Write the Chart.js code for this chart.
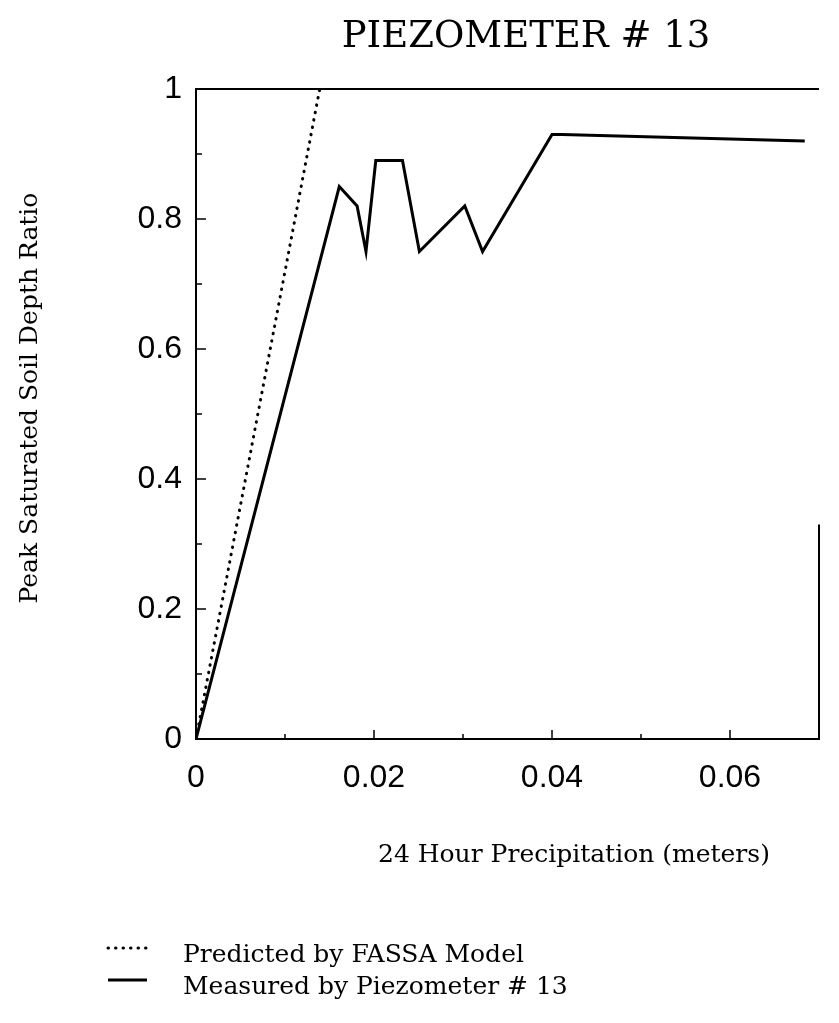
<!DOCTYPE html>
<html>
<head>
<meta charset="utf-8">
<title>Piezometer 13</title>
<script src="https://cdn.jsdelivr.net/npm/chart.js@4.4.1/dist/chart.umd.min.js"></script>
<style>
  html, body { margin: 0; padding: 0; background: #fff; }
  #wrap { width: 839px; height: 1023px; }
</style>
</head>
<body>
<div id="wrap"><canvas id="myChart" width="839" height="1023"></canvas></div>
<script>
// values
const predictedX = [0, 0.0139];
const predictedY = [0, 1.0];

const measuredX = [0, 0.0161, 0.0181, 0.0191, 0.0202, 0.0232, 0.0251, 0.0302, 0.0322, 0.0400, 0.0411, 0.0684];
const measuredY = [0, 0.85, 0.82, 0.75, 0.89, 0.89, 0.75, 0.82, 0.75, 0.93, 0.93, 0.92];

const xTickLabels = ['0', '', '0.02', '', '0.04', '', '0.06', ''];
const yTickLabels = ['0', '', '0.2', '', '0.4', '', '0.6', '', '0.8', '', '1'];

const titleText = 'PIEZOMETER # 13';
const xTitle = '24 Hour Precipitation (meters)';
const yTitle = 'Peak Saturated Soil Depth Ratio';
const seriesNames = ['Predicted by FASSA Model', 'Measured by Piezometer # 13'];

function toPoints(xs, ys) {
  var pts = [];
  for (var i = 0; i < xs.length; i++) {
    pts.push({x: xs[i], y: ys[i]});
  }
  return pts;
}

// frame, inward ticks, titles and legend
const extras = {
  id: 'extras',
  afterDraw(chart) {
    const ctx = chart.ctx;
    const area = chart.chartArea;
    const xs = chart.scales.x;
    const ys = chart.scales.y;
    ctx.save();
    ctx.strokeStyle = '#000';
    ctx.lineWidth = 2;

    ctx.beginPath();
    ctx.moveTo(area.left, area.top);
    ctx.lineTo(area.right, area.top);
    ctx.stroke();

    // right edge only shows on the lower part of the scan
    ctx.beginPath();
    ctx.moveTo(area.right, ys.getPixelForValue(0.33));
    ctx.lineTo(area.right, area.bottom);
    ctx.stroke();

    ctx.lineWidth = 1.5;
    xs.ticks.forEach(function (t, i) {
      var px = xs.getPixelForValue(t.value);
      var len = xTickLabels[i] ? 9 : 5;
      ctx.beginPath();
      ctx.moveTo(px, area.bottom);
      ctx.lineTo(px, area.bottom - len);
      ctx.stroke();
    });
    ys.ticks.forEach(function (t, i) {
      var py = ys.getPixelForValue(t.value);
      var len = yTickLabels[i] ? 10 : 6;
      ctx.beginPath();
      ctx.moveTo(area.left, py);
      ctx.lineTo(area.left + len, py);
      ctx.stroke();
    });

    ctx.fillStyle = '#000';
    ctx.textBaseline = 'alphabetic';
    ctx.font = '37px "DejaVu Serif"';
    ctx.textAlign = 'center';
    ctx.fillText(titleText, 526, 47);

    ctx.font = '25px "DejaVu Serif"';
    ctx.textAlign = 'left';
    ctx.fillText(xTitle, 378, 862);

    ctx.save();
    ctx.translate(30, 398);
    ctx.rotate(-Math.PI / 2);
    ctx.textAlign = 'center';
    ctx.textBaseline = 'middle';
    ctx.fillText(yTitle, 0, 0);
    ctx.restore();

    // legend
    var ds = chart.data.datasets;
    var rows = [948, 980];
    for (var k = 0; k < ds.length; k++) {
      ctx.beginPath();
      ctx.lineWidth = ds[k].borderWidth;
      ctx.lineCap = ds[k].borderCapStyle || 'butt';
      ctx.setLineDash(ds[k].borderDash || []);
      ctx.moveTo(108, rows[k]);
      ctx.lineTo(147, rows[k]);
      ctx.stroke();
      ctx.setLineDash([]);
      ctx.textAlign = 'left';
      ctx.textBaseline = 'middle';
      ctx.fillText(ds[k].label, 183, rows[k] + 7);
    }
    ctx.restore();
  }
};

function chartOnLoad() {
  const ctx = document.getElementById('myChart');

  new Chart(ctx, {
    type: 'line',
    data: {
      datasets: [{
        label: seriesNames[0],
        data: toPoints(predictedX, predictedY),
        borderColor: '#000',
        borderWidth: 3,
        borderDash: [0.5, 7],
        borderCapStyle: 'round',
        pointRadius: 0,
        fill: false
      }, {
        label: seriesNames[1],
        data: toPoints(measuredX, measuredY),
        borderColor: '#000',
        borderWidth: 3,
        borderJoinStyle: 'miter',
        pointRadius: 0,
        fill: false
      }]
    },
    options: {
      responsive: false,
      animation: false,
      layout: {
        padding: {top: 89, left: 0, right: 3, bottom: 0}
      },
      plugins: {
        legend: {display: false},
        tooltip: {enabled: false},
        title: {display: false}
      },
      scales: {
        x: {
          type: 'linear',
          min: 0,
          max: 0.07,
          afterFit: function (scale) { scale.height = 284; },
          grid: {display: true, drawOnChartArea: false, drawTicks: false},
          border: {display: true, color: '#000', width: 2},
          ticks: {
            stepSize: 0.01,
            padding: 20,
            color: '#000',
            maxRotation: 0,
            autoSkip: false,
            font: {family: '"Liberation Sans", Arial, sans-serif', size: 32},
            callback: function (value, index) { return xTickLabels[index]; }
          }
        },
        y: {
          min: 0,
          max: 1,
          afterFit: function (scale) { scale.width = 196; },
          grid: {display: true, drawOnChartArea: false, drawTicks: false},
          border: {display: true, color: '#000', width: 2},
          ticks: {
            stepSize: 0.1,
            padding: 14,
            color: '#000',
            autoSkip: false,
            font: {family: '"Liberation Sans", Arial, sans-serif', size: 32},
            callback: function (value, index) { return yTickLabels[index]; }
          }
        }
      }
    },
    plugins: [extras]
  });
}

window.onload = chartOnLoad;
</script>
</body>
</html>
